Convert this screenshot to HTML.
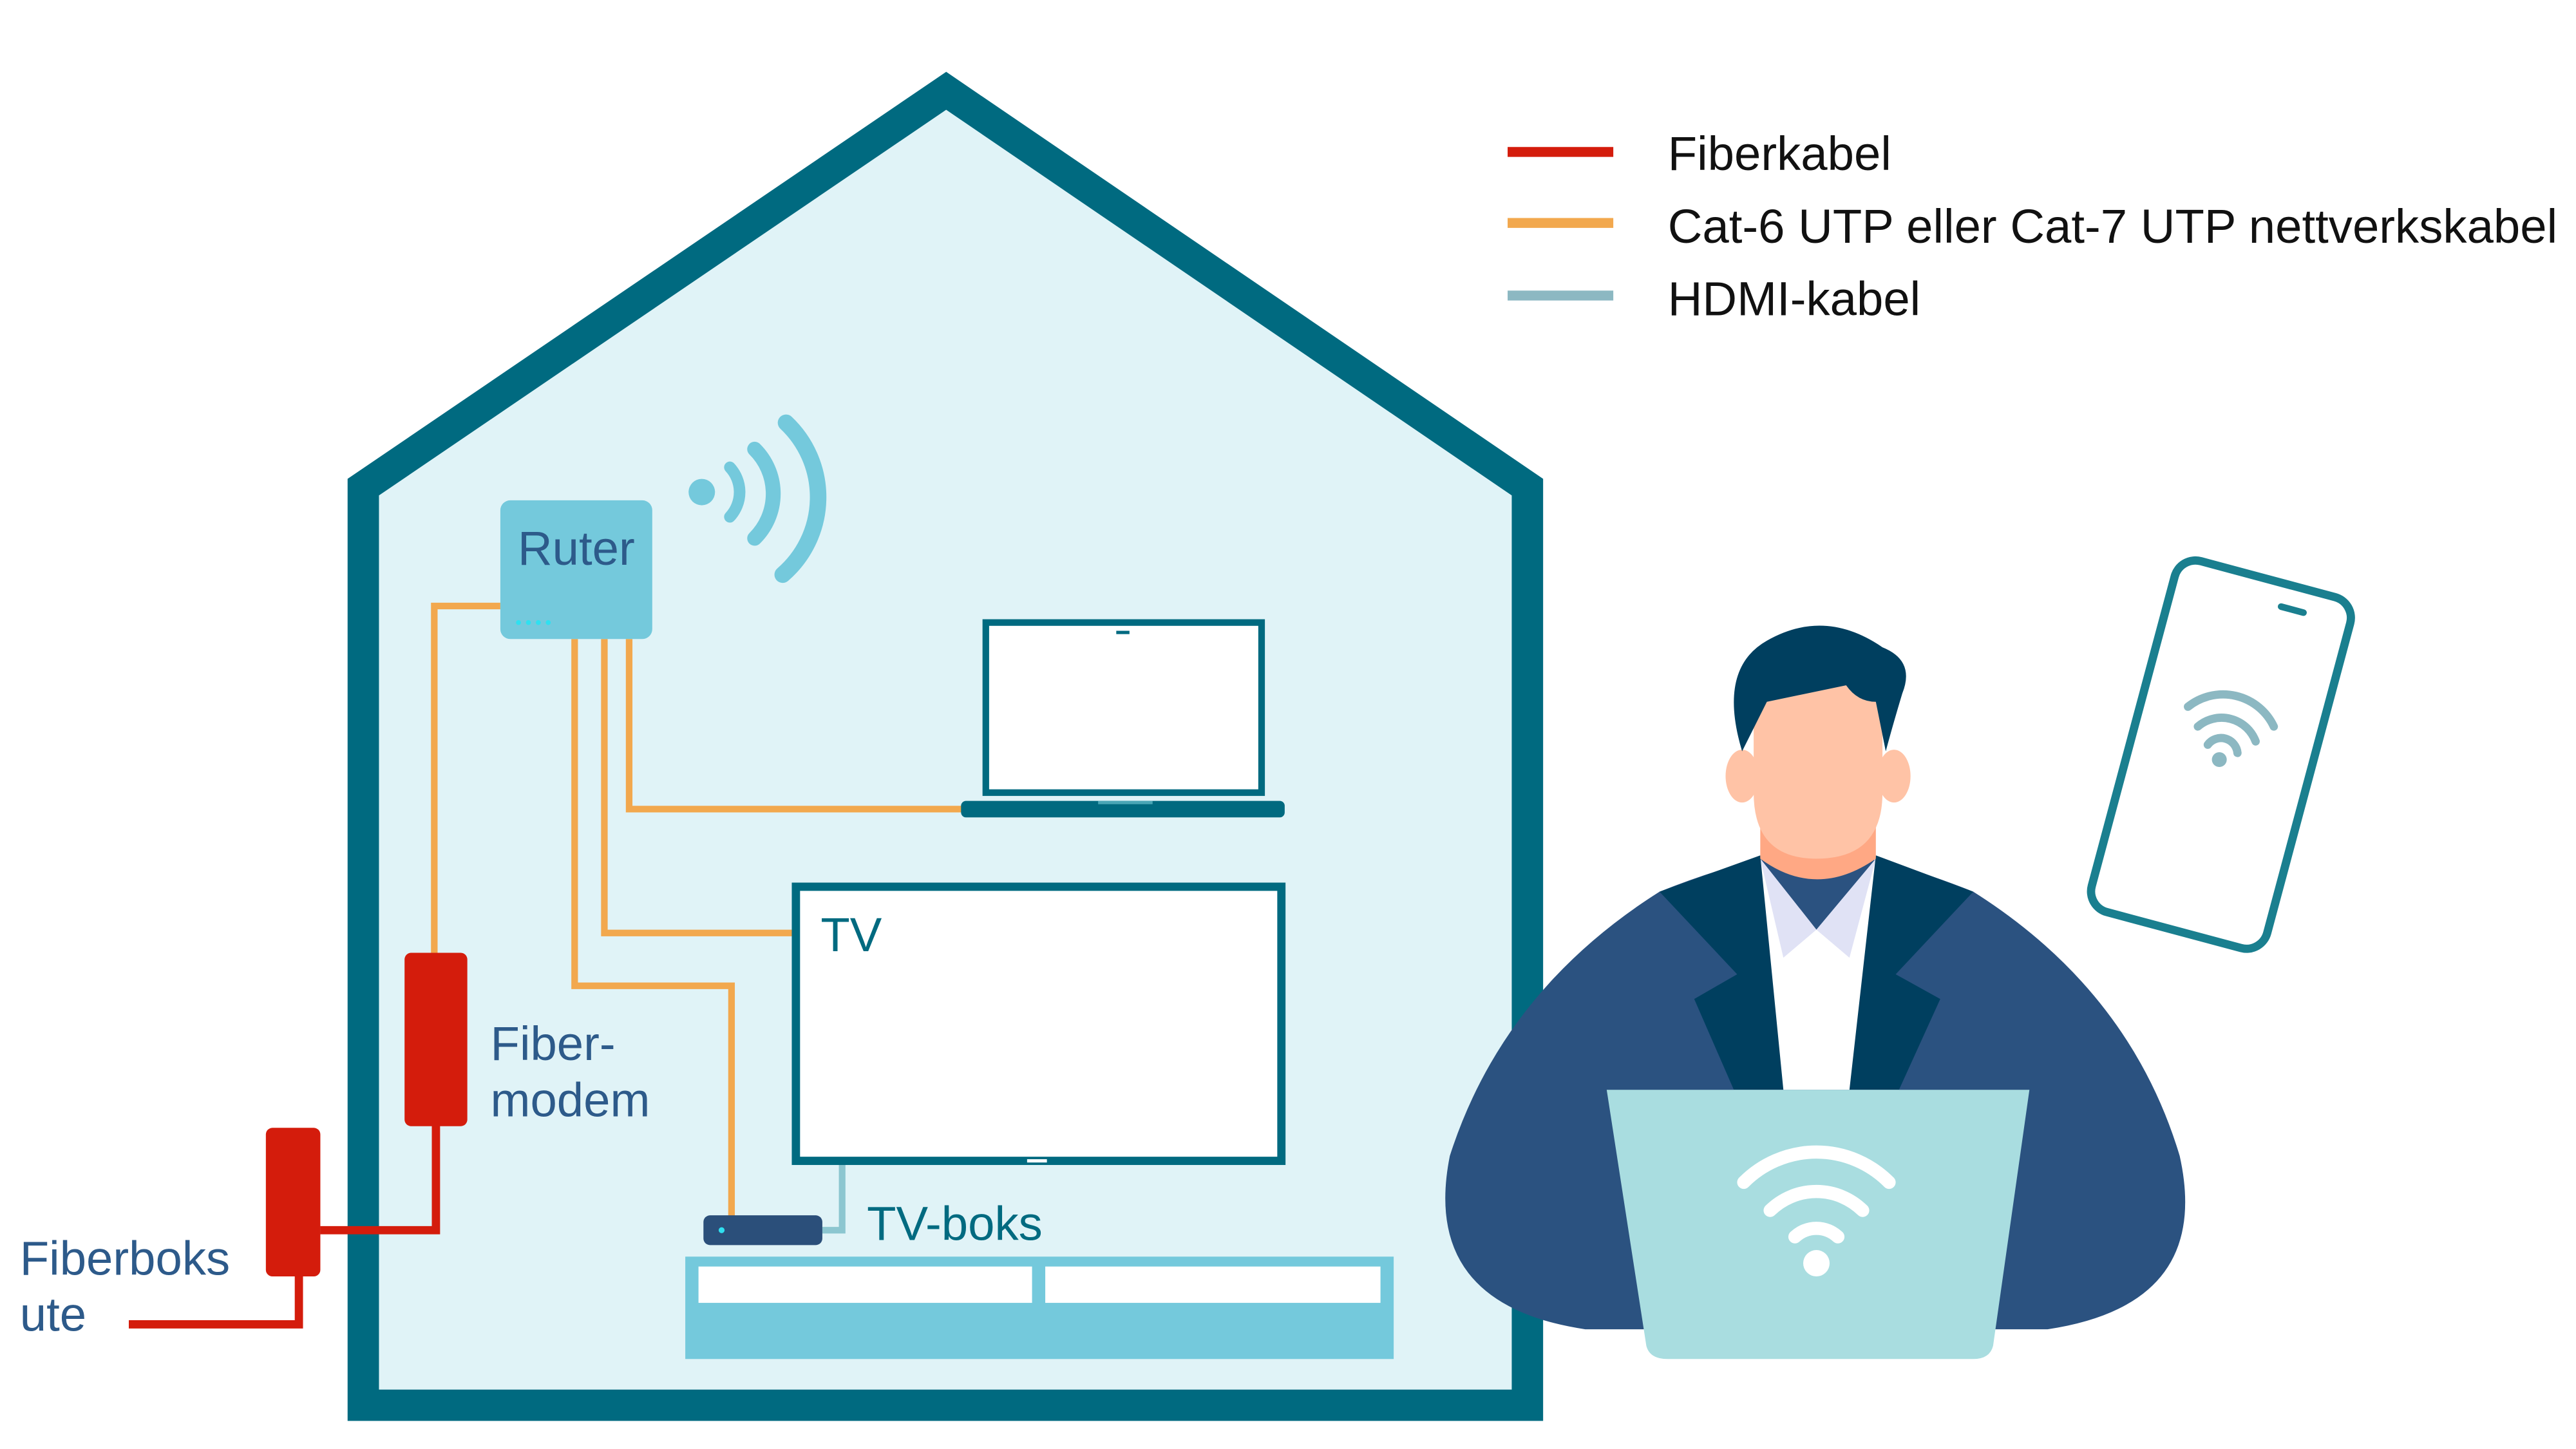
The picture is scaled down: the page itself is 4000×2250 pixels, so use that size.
<!DOCTYPE html>
<html><head><meta charset="utf-8"><style>html,body{margin:0;padding:0;background:#fff}svg{display:block}</style></head>
<body>
<svg width="4000" height="2250" viewBox="0 0 1560 877.5" xmlns="http://www.w3.org/2000/svg" font-family="Liberation Sans, sans-serif">
<rect width="1560" height="877.5" fill="#fff"/>
<polygon points="220,295 573,55 925,295 925,851 220,851" fill="#e0f3f7" stroke="#006a80" stroke-width="19" stroke-linejoin="miter"/>
<line x1="913" y1="92" x2="977" y2="92" stroke="#d41c0c" stroke-width="6"/>
<line x1="913" y1="135" x2="977" y2="135" stroke="#f2a84e" stroke-width="6"/>
<line x1="913" y1="179" x2="977" y2="179" stroke="#8cb8c2" stroke-width="6"/>
<text x="1010" y="103" font-size="29" fill="#111">Fiberkabel</text>
<text x="1010" y="147" font-size="29" fill="#111">Cat-6 UTP eller Cat-7 UTP nettverkskabel</text>
<text x="1010" y="191" font-size="29" fill="#111">HDMI-kabel</text>
<g fill="none" stroke="#f2a84e" stroke-width="4">
<polyline points="303,367 263,367 263,580"/>
<polyline points="381,387 381,490 584,490"/>
<polyline points="366,387 366,565 482,565"/>
<polyline points="348,387 348,597 443,597 443,737"/>
</g>
<polyline points="510,704 510,745 498,745" fill="none" stroke="#8cc6d0" stroke-width="4"/>
<g fill="none" stroke="#d41c0c" stroke-width="5">
<polyline points="264,680 264,745 194,745"/>
<polyline points="181,770 181,802 78,802"/>
</g>
<rect x="303" y="303" width="92" height="84" rx="6" fill="#74c9dc"/>
<text x="349" y="342" font-size="29" fill="#2d5a8a" text-anchor="middle">Ruter</text>
<g fill="#2fe0f0"><circle cx="314" cy="377" r="1.5"/><circle cx="320" cy="377" r="1.5"/><circle cx="326" cy="377" r="1.5"/><circle cx="332" cy="377" r="1.5"/></g>
<g fill="none" stroke="#74c9dc" stroke-linecap="round">
<circle cx="425" cy="298" r="8" fill="#74c9dc" stroke="none"/>
<path d="M442,283 A22,22 0 0 1 442,313" stroke-width="7"/>
<path d="M457,272 A38,38 0 0 1 457,326" stroke-width="9"/>
<path d="M476,256 A62,62 0 0 1 474,348" stroke-width="10"/>
</g>
<rect x="597" y="377" width="167" height="103" fill="#fff" stroke="#006a80" stroke-width="4"/>
<line x1="676" y1="383" x2="684" y2="383" stroke="#006a80" stroke-width="2"/>
<rect x="582" y="485" width="196" height="10" rx="3" fill="#006a80"/>
<line x1="665" y1="486" x2="698" y2="486" stroke="#4aa6b6" stroke-width="2"/>
<rect x="482" y="537" width="294" height="166" fill="#fff" stroke="#006a80" stroke-width="5"/>
<text x="497" y="576" font-size="29" fill="#006a80">TV</text>
<line x1="622" y1="703" x2="634" y2="703" stroke="#fff" stroke-width="2"/>
<rect x="415" y="761" width="429" height="62" fill="#74c9dc"/>
<rect x="423" y="767" width="202" height="22" fill="#fff"/>
<rect x="633" y="767" width="203" height="22" fill="#fff"/>
<rect x="426" y="736" width="72" height="18" rx="4" fill="#2b4f7a"/>
<circle cx="437" cy="745" r="1.8" fill="#2fe0f0"/>
<text x="525" y="751" font-size="29" fill="#006a80">TV-boks</text>
<rect x="245" y="577" width="38" height="105" rx="4" fill="#d41c0c"/>
<text x="297" y="642" font-size="29" fill="#2d5a8a">Fiber-</text>
<text x="297" y="676" font-size="29" fill="#2d5a8a">modem</text>
<rect x="161" y="683" width="33" height="90" rx="4" fill="#d41c0c"/>
<text x="12" y="772" font-size="29" fill="#2d5a8a">Fiberboks</text>
<text x="12" y="806" font-size="29" fill="#2d5a8a">ute</text>
<path d="M1005,540 Q1060,518 1100,515 Q1140,518 1195,540 Q1290,600 1320,700 Q1340,790 1240,805 L960,805 Q860,790 878,700 Q910,600 1005,540 Z" fill="#2b5280"/>
<polygon points="1066,520 1100,563 1136,520 1150,660 1050,660" fill="#fff"/>
<polygon points="1066,520 1100,563 1080,580" fill="#e0e2f5"/>
<polygon points="1136,520 1100,563 1120,580" fill="#e0e2f5"/>
<polygon points="1005,540 1066,518 1080,660 1050,660 1026,605 1052,590" fill="#003f5f"/>
<polygon points="1195,540 1136,518 1120,660 1150,660 1175,605 1148,590" fill="#003f5f"/>
<path d="M1066,470 L1066,520 Q1100,545 1136,520 L1136,470 Z" fill="#ffa884"/>
<ellipse cx="1055" cy="470" rx="10" ry="16" fill="#ffc3a6"/>
<ellipse cx="1147" cy="470" rx="10" ry="16" fill="#ffc3a6"/>
<path d="M1062,410 L1140,410 L1140,480 Q1140,520 1100,520 Q1062,520 1062,480 Z" fill="#ffc3a6"/>
<path d="M1055,455 Q1040,405 1070,388 Q1105,368 1140,392 Q1160,400 1152,420 Q1146,440 1142,455 L1136,425 Q1125,425 1118,415 L1070,425 Z" fill="#003f5f"/>
<path d="M973,660 L1229,660 L1207,815 Q1205,823 1195,823 L1010,823 Q999,823 997,815 Z" fill="#a9dde0"/>
<g fill="none" stroke="#fff" stroke-linecap="round">
<path d="M1056,716 A62,62 0 0 1 1144,716" stroke-width="8"/>
<path d="M1072,733 A40,40 0 0 1 1128,733" stroke-width="8"/>
<path d="M1087,749 A19,19 0 0 1 1113,749" stroke-width="8"/>
</g>
<circle cx="1100" cy="765" r="8" fill="#fff"/>
<g transform="translate(1345,457) rotate(15)">
<rect x="-55" y="-110" width="110" height="220" rx="13" fill="#fff" stroke="#1a7f8f" stroke-width="5"/>
<line x1="12" y1="-96" x2="26" y2="-96" stroke="#1a7f8f" stroke-width="4" stroke-linecap="round"/>
</g>
<g fill="none" stroke="#8cb8c2" stroke-linecap="round" stroke-width="5">
<path d="M1325,428 A34,34 0 0 1 1377,440"/>
<path d="M1331,440 A22,22 0 0 1 1366,449"/>
<path d="M1337,451 A10,10 0 0 1 1355,456"/>
</g>
<circle cx="1344" cy="460" r="4.5" fill="#8cb8c2"/>
</svg>
</body></html>
